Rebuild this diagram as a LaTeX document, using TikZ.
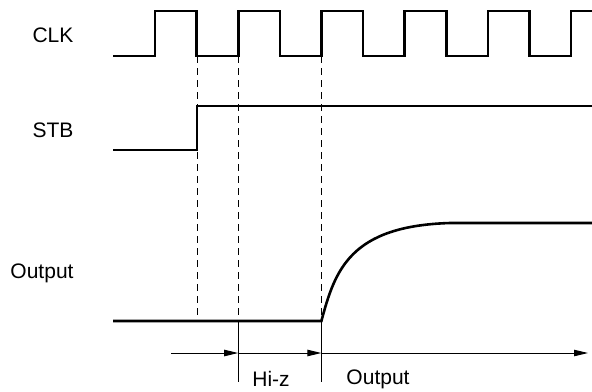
\documentclass[tikz,border=0pt]{standalone}
\usepackage{fontspec}
\setmainfont{Liberation Sans}
\usetikzlibrary{arrows.meta,positioning}

\begin{document}
\begin{tikzpicture}[
  x=0.5pt, y=-0.5pt,
  font=\fontsize{10.5}{12}\selectfont,
  sig/.style = {line width=1.3pt, line join=miter},
  guide/.style = {line width=0.5pt, dash pattern=on 3.5pt off 2.5pt},
  tick/.style = {line width=0.5pt},
  span/.style = {-{Triangle[length=7pt, width=3.2pt]}, line width=0.5pt},
  lbl/.style = {inner sep=0pt, anchor=center}
]
\useasboundingbox (0,0) rectangle (592,391);

% Signal names
\node[lbl] (clk) at (53,35)  {CLK};
\node[lbl] (stb) at (53,130) {STB};
\node[lbl] (out) at (42,273) {Output};

% Clock waveform
\draw[sig] (113,56) \foreach \i in {0,...,4} {
    -- ({155+83.2*\i},56) -- ++(0,-45) -- ++(41.6,0) -- ++(0,45)
  } -- (571,56) -- (571,11) -- (592,11);

% Strobe
\draw[sig] (113,150) -- (197,150) -- (197,106) -- (592,106);

% Output rising after Hi-z
\draw[sig] (113,321) -- (321.4,321)
  .. controls (335,270) and (350,226) .. (450,223) -- (592,223);

% Key instants
\coordinate (e1) at (197,56);
\coordinate (e2) at (238.2,56);
\coordinate (e3) at (321.4,56);
\coordinate (b2) at (238.2,382);
\coordinate (b3) at (321.4,382);

% Dashed guides down to the output line
\draw[guide] (e1) -- (e1 |- 0,321);
\draw[guide] (e2) -- (e2 |- 0,321);
\draw[guide] (e3) -- (e3 |- 0,321);
\draw[tick] (e2 |- 0,321) -- (b2);
\draw[tick] (e3 |- 0,321) -- (b3);

% Time axis
\coordinate (t0) at (171,353);
\coordinate (t1) at (238.2,353);
\coordinate (t2) at (321.4,353);
\coordinate (t3) at (588,353);
\draw[span] (t0) -- (t1);
\draw[span] (t1) -- (t2);
\draw[span] (t2) -- (t3);

% Phase labels
\node[lbl] (hiz)  at (271,379) {Hi-z};
\node[lbl] (outp) at (378,379) {Output};

\end{tikzpicture}
\end{document}
